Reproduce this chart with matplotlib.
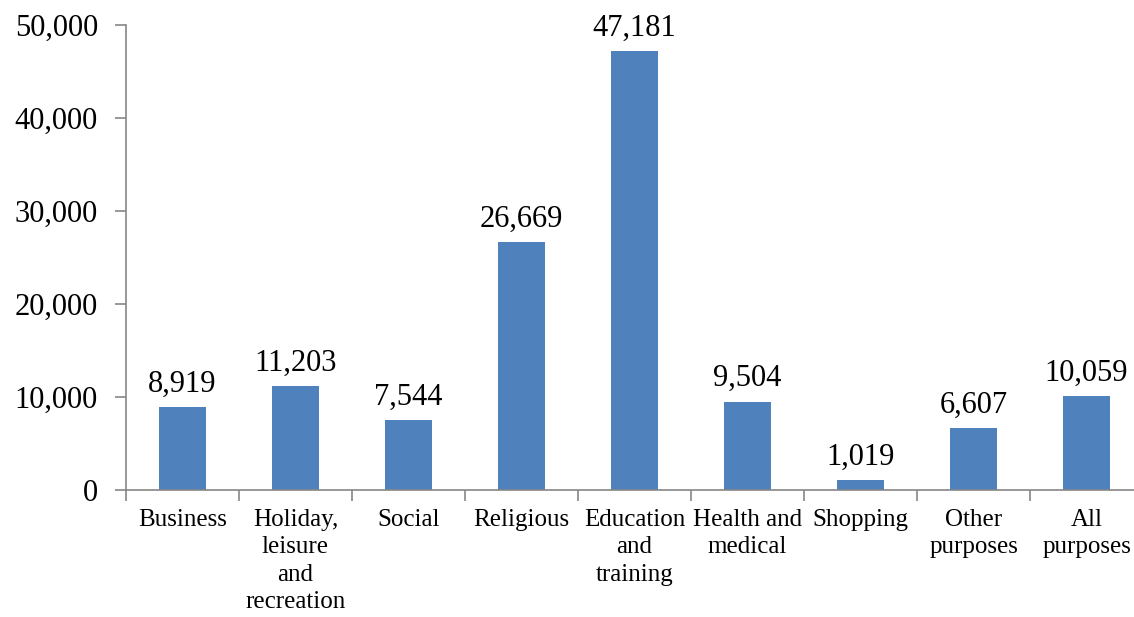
import matplotlib
matplotlib.use("Agg")
import matplotlib.pyplot as plt
from matplotlib.ticker import FuncFormatter

categories = ["Business", "Holiday,\nleisure\nand\nrecreation", "Social", "Religious",
              "Education\nand\ntraining", "Health and\nmedical", "Shopping",
              "Other\npurposes", "All\npurposes"]
values = [8919, 11203, 7544, 26669, 47181, 9504, 1019, 6607, 10059]

plt.rcParams['font.family'] = ['Liberation Serif', 'DejaVu Serif']

fig = plt.figure(figsize=(11.34, 6.17), dpi=100)
ax = fig.add_axes([0.111, 0.206, 0.897, 0.7535])

x = list(range(len(values)))
ax.bar(x, values, width=0.41, color="#4f81bd")

for xi, v in zip(x, values):
    ax.text(xi, v + 900, f"{v:,}", ha="center", va="bottom", fontsize=22)

ax.set_xlim(-0.5, len(values) - 0.5)
ax.set_ylim(0, 50000)
ax.set_yticks(range(0, 50001, 10000))
ax.yaxis.set_major_formatter(FuncFormatter(lambda v, p: f"{int(v):,}"))
ax.set_xticks([i - 0.5 for i in range(len(values))])
ax.set_xticklabels([])
ax.set_xticks(x, minor=True)
ax.set_xticklabels(categories, minor=True, fontsize=18, linespacing=1.3, va="top")
ax.tick_params(axis="x", which="minor", length=0, pad=14)
ax.tick_params(axis="x", which="major", length=8, color="#868686", width=1.2)
ax.tick_params(axis="y", length=8, color="#868686", width=1.2, labelsize=22, pad=12)

for s in ["top", "right"]:
    ax.spines[s].set_visible(False)
for s in ["left", "bottom"]:
    ax.spines[s].set_color("#868686")
    ax.spines[s].set_linewidth(1.2)

fig.savefig("out.png", dpi=100)
